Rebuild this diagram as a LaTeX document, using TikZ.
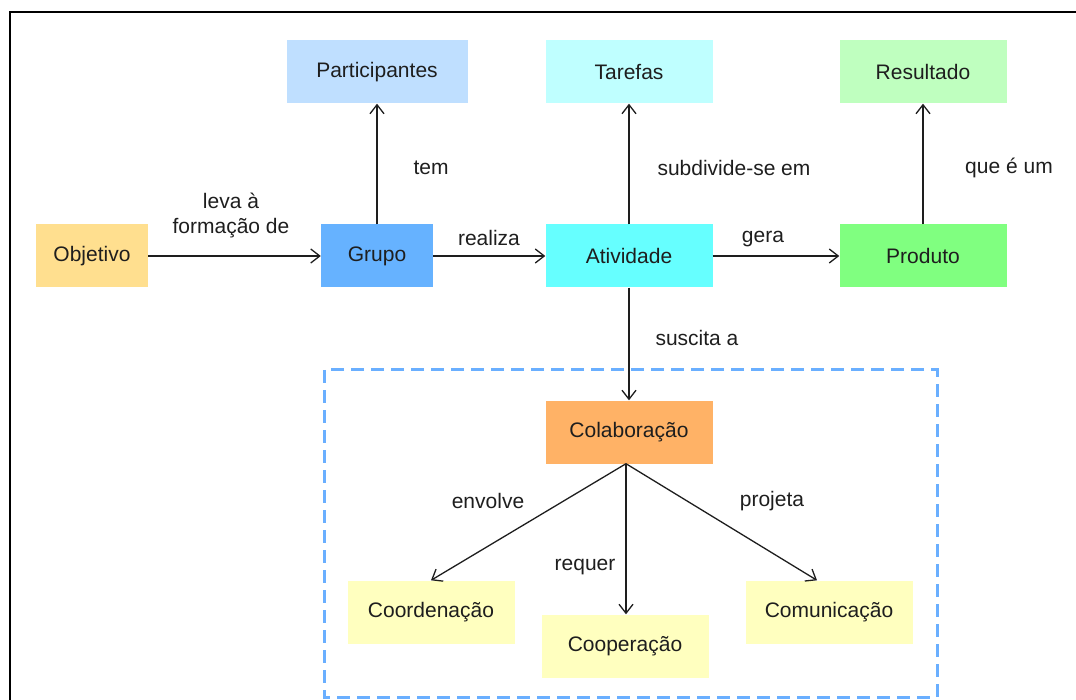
\documentclass[tikz,border=0pt]{standalone}
\usepackage{fontspec}
\setmainfont{Liberation Sans}
\usetikzlibrary{arrows.meta,positioning}
\definecolor{objetivoyellow}{HTML}{FFDF8F}
\definecolor{grupoblue}{HTML}{66B2FF}
\definecolor{partblue}{HTML}{BFDFFF}
\definecolor{ativcyan}{HTML}{66FFFF}
\definecolor{tarefacyan}{HTML}{BFFFFF}
\definecolor{produtogreen}{HTML}{80FF80}
\definecolor{resultgreen}{HTML}{BFFFBF}
\definecolor{colaborange}{HTML}{FFB266}
\definecolor{paleyellow}{HTML}{FFFFBF}
\definecolor{dashblue}{HTML}{6AAFFF}
\definecolor{inkgray}{HTML}{1E1E1E}

\begin{document}
\begin{tikzpicture}[
  x=1pt, y=-1pt,
  >={Straight Barb[length=9pt,width=14pt]},
  every node/.style={font=\fontsize{21}{25}\selectfont, text=inkgray},
  concept/.style={minimum width=167pt, minimum height=63pt, inner sep=0pt, align=center},
  link/.style={->, line width=1.3pt, draw=inkgray},
  lab/.style={align=center, inner sep=1pt}
]
\useasboundingbox (0,0) rectangle (1076,700);

% frame
\draw[line width=2.5pt] (10,700) -- (10,12) -- (1076,12);

% concepts
\node[concept, fill=objetivoyellow, minimum width=112pt] (objetivo) at (92,256) {Objetivo};
\node[concept, fill=grupoblue, minimum width=112pt] (grupo) at (377,256) {Grupo};
\node[concept, fill=partblue, minimum width=181pt] (participantes) at (377,72) {Participantes};
\node[concept, fill=ativcyan] (atividade) at (629,256) {Atividade};
\node[concept, fill=tarefacyan] (tarefas) at (629,72) {Tarefas};
\node[concept, fill=produtogreen] (produto) at (923,256) {Produto};
\node[concept, fill=resultgreen] (resultado) at (923,72) {Resultado};
\node[concept, fill=colaborange] (colaboracao) at (629,432) {Colaboração};
\node[concept, fill=paleyellow] (coordenacao) at (431,612) {Coordenação};
\node[concept, fill=paleyellow] (cooperacao) at (625,646) {Cooperação};
\node[concept, fill=paleyellow] (comunicacao) at (829,612) {Comunicação};

% collaboration area
\draw[dashblue, line width=3pt, dash pattern=on 13pt off 7pt] (324,370) rectangle (937,697);

% links
\draw[link] (objetivo.east) -- (grupo.west);
\draw[link] (grupo.east) -- (atividade.west);
\draw[link] (atividade.east) -- (produto.west);
\draw[link] (grupo.north) -- (participantes.south);
\draw[link] (atividade.north) -- (tarefas.south);
\draw[link] (produto.north) -- (resultado.south);
\draw[link] (atividade.south) -- (colaboracao.north);
\draw[link] ([xshift=-3pt]colaboracao.south) -- (coordenacao.north);
\draw[link] ([xshift=-3pt]colaboracao.south) -- ([xshift=1pt]cooperacao.north);
\draw[link] ([xshift=-3pt]colaboracao.south) -- ([xshift=-12pt]comunicacao.north);

% link labels
\node[lab] (lleva) at (231,215) {leva à\\formação de};
\node[lab] (lrealiza) at (489,238) {realiza};
\node[lab] (ltem) at (431,168) {tem};
\node[lab] (lsubdivide) at (734,168) {subdivide-se em};
\node[lab] (lque) at (1009,168) {que é um};
\node[lab] (lgera) at (763,239) {gera};
\node[lab] (lsuscita) at (697,338) {suscita a};
\node[lab] (lenvolve) at (488,501) {envolve};
\node[lab] (lprojeta) at (772,501) {projeta};
\node[lab] (lrequer) at (585,567) {requer};
\end{tikzpicture}
\end{document}
